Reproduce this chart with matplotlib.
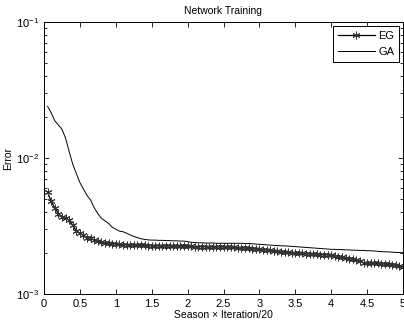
import numpy as np
import matplotlib
matplotlib.use("Agg")
import matplotlib.pyplot as plt
from matplotlib.ticker import LogLocator, NullFormatter, MultipleLocator, FormatStrFormatter

plt.rcParams['font.family'] = ['Liberation Sans', 'DejaVu Sans']
plt.rcParams['mathtext.default'] = 'regular'

# x = season * iteration / 20, sampled every 0.05
season = np.round(np.arange(1, 101) * 0.05, 2)

eg_err = [0.0056, 0.0048, 0.0043, 0.0039, 0.0037, 0.0036, 0.0035, 0.0032, 0.0029, 0.0028,
          0.0027, 0.0026, 0.00257, 0.0025, 0.00244, 0.0024, 0.00238, 0.00236, 0.00235, 0.00233,
          0.00232, 0.00231, 0.0023, 0.0023, 0.00229, 0.00229, 0.00228, 0.00228, 0.00227, 0.00227,
          0.00227, 0.00226, 0.00226, 0.00226, 0.00225, 0.00225, 0.00225, 0.00224, 0.00224, 0.00224,
          0.00224, 0.00223, 0.00223, 0.00223, 0.00223, 0.00222, 0.00222, 0.00222, 0.00222, 0.00222,
          0.00221, 0.00221, 0.0022, 0.00219, 0.00218, 0.00218, 0.00217, 0.00216, 0.00214, 0.00213,
          0.00212, 0.00211, 0.0021, 0.00208, 0.00206, 0.00204, 0.00203, 0.00202, 0.00201, 0.002,
          0.002, 0.00199, 0.00198, 0.00197, 0.00197, 0.00196, 0.00195, 0.00194, 0.00194, 0.00192,
          0.0019, 0.00188, 0.00186, 0.00184, 0.00182, 0.0018, 0.00177, 0.00174, 0.0017, 0.00169,
          0.00169, 0.00168, 0.00168, 0.00167, 0.00166, 0.00165, 0.00164, 0.00163, 0.00161, 0.00159]

ga_err = [0.024, 0.0215, 0.0188, 0.0175, 0.0163, 0.014, 0.0112, 0.009, 0.0077, 0.0066,
          0.0059, 0.0053, 0.0049, 0.0043, 0.0039, 0.0036, 0.00345, 0.0033, 0.0031, 0.003,
          0.0029, 0.00287, 0.0028, 0.00272, 0.00265, 0.0026, 0.00255, 0.00252, 0.0025, 0.00249,
          0.00249, 0.00248, 0.00248, 0.00247, 0.00247, 0.00246, 0.00246, 0.00245, 0.00245, 0.00243,
          0.0024, 0.00239, 0.00238, 0.00238, 0.00237, 0.00237, 0.00237, 0.00236, 0.00236, 0.00236,
          0.00236, 0.00236, 0.00236, 0.00236, 0.00236, 0.00235, 0.00235, 0.00234, 0.00233, 0.00232,
          0.00231, 0.0023, 0.00229, 0.00228, 0.00227, 0.00226, 0.00226, 0.00225, 0.00224, 0.00223,
          0.00222, 0.00221, 0.0022, 0.00219, 0.00218, 0.00217, 0.00216, 0.00215, 0.00214, 0.00213,
          0.00213, 0.00212, 0.00212, 0.00211, 0.00211, 0.0021, 0.0021, 0.00209, 0.00209, 0.00208,
          0.00208, 0.00207, 0.00206, 0.00205, 0.00204, 0.00204, 0.00203, 0.00202, 0.00202, 0.00201]

fig = plt.figure(figsize=(4.04, 3.30), dpi=100)
ax = fig.add_axes([44/404, 36/330, 359/404, 272/330])

ax.plot(season, eg_err, color='black', lw=0.9, marker=(6, 2, 0), ms=5.5, mew=0.7,
        mec='#333333', label='EG')
ax.plot(season, ga_err, color='black', lw=0.7, label='GA')

ax.set_yscale('log')
ax.set_xlim(0, 5)
ax.set_ylim(1e-3, 1e-1)
ax.xaxis.set_major_locator(MultipleLocator(0.5))
ax.xaxis.set_major_formatter(FormatStrFormatter('%g'))
ax.yaxis.set_minor_locator(LogLocator(base=10, subs=np.arange(2, 10)))
ax.yaxis.set_minor_formatter(NullFormatter())
ax.tick_params(which='both', direction='in', top=True, right=True, labelsize=8, width=0.6)
ax.tick_params(which='major', length=3.5)
ax.tick_params(which='minor', length=2)
for s in ax.spines.values():
    s.set_linewidth(0.7)

ax.set_title('Network Training', fontsize=7.5, pad=6)
ax.set_xlabel('Season × Iteration/20', fontsize=7.5, labelpad=1)
ax.set_ylabel('Error', fontsize=7.5, labelpad=2)

leg = ax.legend(loc='upper right', fontsize=8, numpoints=1, handlelength=3.4, fancybox=False,
                framealpha=1, edgecolor='black', borderaxespad=0.35, handletextpad=0.25,
                borderpad=0.45, labelspacing=0.55)
leg.get_frame().set_linewidth(0.7)

fig.savefig('out.png', dpi=100)
